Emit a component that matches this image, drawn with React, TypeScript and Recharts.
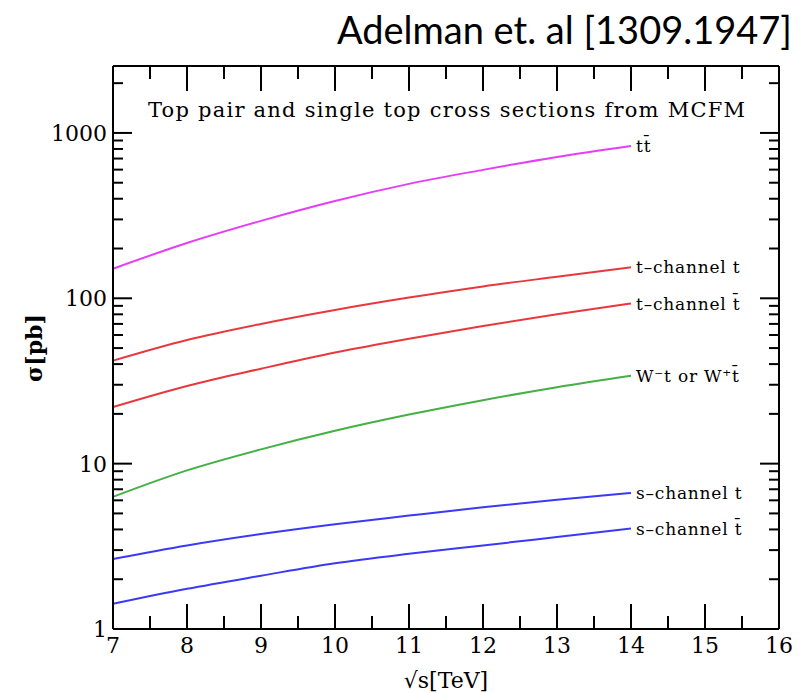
import * as React from "react"
import { LineChart, Line, XAxis, YAxis, LabelList } from "recharts"

// sqrt(s) in TeV
const energies = [7, 8, 9, 10, 11, 12, 13, 14]
// cross sections in pb
const ttbar = [151, 216, 294, 388, 492, 598, 716, 834]
const tchanT = [42, 56, 70, 85, 101, 118, 135, 154]
const tchanTbar = [22, 29.5, 37.5, 47, 57, 68, 80, 93]
const wt = [6.3, 9.1, 12.2, 15.8, 19.8, 24.2, 29, 34]
const schanT = [2.65, 3.2, 3.75, 4.3, 4.85, 5.45, 6.05, 6.65]
const schanTbar = [1.42, 1.75, 2.1, 2.5, 2.85, 3.2, 3.6, 4.05]

const xTicks = [7, 7.5, 8, 8.5, 9, 9.5, 10, 10.5, 11, 11.5, 12, 12.5, 13, 13.5, 14, 14.5, 15, 15.5, 16]
const yTicks = [
  1, 2, 3, 4, 5, 6, 7, 8, 9,
  10, 20, 30, 40, 50, 60, 70, 80, 90,
  100, 200, 300, 400, 500, 600, 700, 800, 900,
  1000, 2000,
]

const series = [
  { key: "ttbar", values: ttbar, color: "#e43ef7", label: "tt\u0304" },
  { key: "tchanT", values: tchanT, color: "#e8383e", label: "t\u2013channel t" },
  { key: "tchanTbar", values: tchanTbar, color: "#e8383e", label: "t\u2013channel t\u0304" },
  { key: "wt", values: wt, color: "#45b045", label: "W\u207Bt or W\u207At\u0304" },
  { key: "schanT", values: schanT, color: "#3a3af5", label: "s\u2013channel t" },
  { key: "schanTbar", values: schanTbar, color: "#3a3af5", label: "s\u2013channel t\u0304" },
]

const data = energies.map((e, i) => {
  const row: Record<string, number> = { e }
  series.forEach(s => (row[s.key] = s.values[i]))
  return row
})

const serif = "DejaVu Serif"
const isMajorY = (v: number) => Math.abs(Math.log10(v) - Math.round(Math.log10(v))) < 1e-9

function BottomTick({ x, y, payload }: any) {
  const v = payload.value
  const major = Number.isInteger(v)
  return (
    <g>
      <line x1={x} x2={x} y1={y} y2={y - (major ? 25 : 13)} stroke="#000" strokeWidth={2} />
      {major && (
        <text x={x} y={y + 24} textAnchor="middle" fontSize={22} fontFamily={serif} fill="#000">
          {v}
        </text>
      )}
    </g>
  )
}

function TopTick({ x, y, payload }: any) {
  const major = Number.isInteger(payload.value)
  return <line x1={x} x2={x} y1={y} y2={y + (major ? 25 : 13)} stroke="#000" strokeWidth={2} />
}

function LeftTick({ x, y, payload }: any) {
  const v = payload.value
  const major = isMajorY(v)
  return (
    <g>
      <line x1={x} x2={x + (major ? 19 : 10)} y1={y} y2={y} stroke="#000" strokeWidth={2} />
      {major && (
        <text x={x - 6} y={y + 8} textAnchor="end" fontSize={22} fontFamily={serif} fill="#000">
          {v}
        </text>
      )}
    </g>
  )
}

function RightTick({ x, y, payload }: any) {
  const major = isMajorY(payload.value)
  return <line x1={x} x2={x - (major ? 19 : 10)} y1={y} y2={y} stroke="#000" strokeWidth={2} />
}

function endLabel(text: string) {
  return (props: any) => {
    if (props.index !== energies.length - 1) return null
    return (
      <text x={props.x + 5} y={props.y + 6} fontSize={17} fontFamily={serif} fill="#000" letterSpacing={0.8}>
        {text}
      </text>
    )
  }
}

export default function App() {
  const axisLine = { stroke: "#000", strokeWidth: 2 }
  return (
    <div style={{ position: "absolute", left: 0, top: 0, width: 803, height: 693, background: "#fff" }}>
      <LineChart width={803} height={693} data={data} margin={{ top: 65, right: 23, bottom: 63, left: 112 }}>
        <XAxis xAxisId="b" dataKey="e" type="number" domain={[7, 16]} ticks={xTicks} interval={0}
          height={1} tickSize={0} tickMargin={0} tickLine={false} axisLine={axisLine} tick={BottomTick} />
        <XAxis xAxisId="t" orientation="top" dataKey="e" type="number" domain={[7, 16]} ticks={xTicks} interval={0}
          height={1} tickSize={0} tickMargin={0} tickLine={false} axisLine={axisLine} tick={TopTick} />
        <YAxis yAxisId="l" scale="log" domain={[1, 2540]} allowDataOverflow ticks={yTicks} interval={0}
          width={1} tickSize={0} tickMargin={0} tickLine={false} axisLine={axisLine} tick={LeftTick} />
        <YAxis yAxisId="r" orientation="right" scale="log" domain={[1, 2540]} allowDataOverflow ticks={yTicks} interval={0}
          width={1} tickSize={0} tickMargin={0} tickLine={false} axisLine={axisLine} tick={RightTick} />
        {series.map(s => (
          <Line key={s.key} xAxisId="b" yAxisId="l" dataKey={s.key} type="monotone" stroke={s.color}
            strokeWidth={2} dot={false} isAnimationActive={false}>
            <LabelList dataKey={s.key} content={endLabel(s.label)} />
          </Line>
        ))}
      </LineChart>
      <svg width={803} height={693} style={{ position: "absolute", left: 0, top: 0, pointerEvents: "none" }}>
        <text x={792} y={44} textAnchor="end" fontSize={38} fontFamily="Lato" fill="#000">
          Adelman et. al [1309.1947]
        </text>
        <text x={148} y={117} fontSize={21} fontFamily={serif} fill="#000" textLength={597} lengthAdjust="spacing">
          Top pair and single top cross sections from MCFM
        </text>
        <text x={446} y={688} textAnchor="middle" fontSize={22} fontFamily={serif} fill="#000">
          √s[TeV]
        </text>
        <text transform="translate(42,348) rotate(-90)" textAnchor="middle" fontSize={22} fontWeight="bold"
          fontFamily={serif} fill="#000">
          σ[pb]
        </text>
      </svg>
    </div>
  )
}
